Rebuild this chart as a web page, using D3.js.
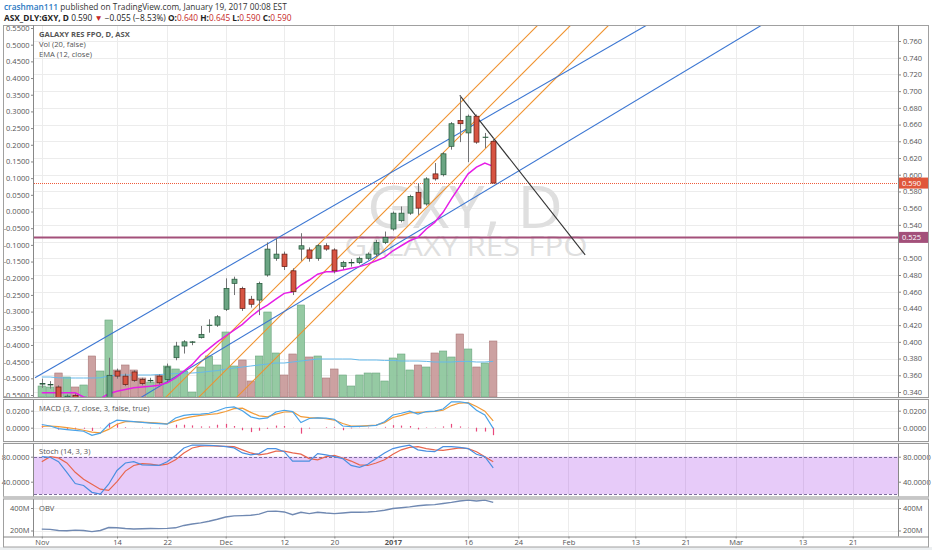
<!DOCTYPE html>
<html><head><meta charset="utf-8">
<script src="https://cdn.jsdelivr.net/npm/d3@7/dist/d3.min.js"></script>
<style>
body{margin:0;background:#fff;}
svg{display:block;font-family:"Open Sans",sans-serif;}
.ax path.domain{display:none;}
.ax line{stroke:#888;}
.ax text{fill:#555;font-size:7.5px;font-family:"Open Sans",sans-serif;}
</style>
</head><body>
<svg id="c" width="932" height="550"></svg>
<script>
// ---------- DATA (bar index 0 = 1 Nov 2016 ... 54 = 19 Jan 2017) ----------
const open  = [0.350,0.349,0.346,0.333,0.336,0.330,0.332,0.322,0.330,0.365,0.359,0.364,0.355,0.354,0.359,0.355,0.381,0.395,0.400,0.405,0.420,0.420,0.439,0.470,0.464,0.451,0.450,0.480,0.500,0.505,0.485,0.511,0.510,0.500,0.515,0.510,0.490,0.495,0.495,0.500,0.505,0.519,0.535,0.545,0.554,0.579,0.565,0.601,0.600,0.634,0.665,0.650,0.670,0.645,0.640];
const high  = [0.356,0.353,0.348,0.337,0.338,0.334,0.333,0.330,0.381,0.368,0.362,0.366,0.357,0.357,0.361,0.374,0.400,0.402,0.401,0.419,0.427,0.432,0.476,0.478,0.466,0.455,0.472,0.519,0.524,0.508,0.488,0.530,0.513,0.517,0.518,0.512,0.497,0.499,0.502,0.507,0.522,0.532,0.556,0.562,0.576,0.590,0.597,0.614,0.627,0.663,0.695,0.672,0.672,0.650,0.645];
const low   = [0.345,0.344,0.330,0.330,0.331,0.326,0.318,0.320,0.325,0.356,0.347,0.352,0.348,0.351,0.349,0.352,0.378,0.386,0.396,0.404,0.411,0.418,0.437,0.456,0.437,0.441,0.432,0.478,0.497,0.486,0.456,0.497,0.496,0.497,0.509,0.482,0.487,0.490,0.493,0.498,0.502,0.517,0.533,0.543,0.552,0.552,0.563,0.593,0.598,0.630,0.639,0.615,0.637,0.632,0.590];
const close = [0.350,0.349,0.333,0.335,0.333,0.332,0.322,0.328,0.360,0.359,0.349,0.354,0.350,0.354,0.351,0.370,0.395,0.400,0.400,0.409,0.420,0.430,0.464,0.475,0.440,0.445,0.470,0.511,0.505,0.490,0.460,0.515,0.500,0.515,0.511,0.485,0.495,0.495,0.500,0.505,0.519,0.525,0.554,0.554,0.574,0.560,0.595,0.595,0.625,0.661,0.661,0.670,0.639,0.645,0.590];
const volume = [5.5,5,12,10,5,6,20.5,13,38.5,13.5,16,13.5,9.5,7.5,11,15.5,14,13,2.5,15,20.5,16,32.5,15.5,18.5,8,20.5,42.5,22,11,21.5,46,20,20.5,9.5,14,11,5.5,11,12,12,8,19.5,21.5,13.5,16,15,22,23,20,31.5,24,15,17,28];
const volMA = [10,10,9.6,9.5,9.5,9.5,9.5,9.6,10.5,11,11,11,11,11,11.2,11.5,11.7,12,12,12.3,12.8,13.2,14,14.5,15,15.5,16,16.5,17,17,17.5,18,18.5,19,19,19,19,19,18.5,18.5,18.5,18.3,18.3,18,18,18,17.8,17.5,17.5,17.5,17.8,17.8,17.5,17.5,17.8];
const ema12 = [0.339,0.339,0.339,0.339,0.339,0.334,0.332,0.332,0.338,0.341,0.343,0.345,0.346,0.347,0.348,0.351,0.357,0.365,0.373,0.384,0.392,0.400,0.407,0.414,0.421,0.430,0.438,0.444,0.451,0.458,0.460,0.468,0.474,0.481,0.484,0.484,0.486,0.488,0.490,0.493,0.497,0.501,0.509,0.515,0.521,0.525,0.535,0.543,0.555,0.571,0.586,0.601,0.609,0.614,0.610];
const macdLine = [0.0038,0.0020,-0.0010,-0.0022,-0.0032,-0.0042,-0.0090,-0.0064,0.0038,0.0088,0.0080,0.0071,0.0062,0.0054,0.0047,0.0042,0.0115,0.0145,0.0157,0.0160,0.0170,0.0200,0.0235,0.0245,0.0200,0.0128,0.0105,0.0115,0.0185,0.0205,0.0190,0.0060,0.0108,0.0115,0.0112,0.0100,0.0020,0.0012,0.0015,0.0020,0.0028,0.0070,0.0150,0.0170,0.0195,0.0160,0.0190,0.0196,0.0220,0.0305,0.0305,0.0290,0.0205,0.0150,-0.0008];
const signalLine = [0.0014,0.0020,0.0012,0.0000,-0.0012,-0.0030,-0.0052,-0.0060,-0.0020,0.0040,0.0072,0.0072,0.0066,0.0060,0.0054,0.0045,0.0080,0.0110,0.0130,0.0145,0.0155,0.0165,0.0190,0.0225,0.0230,0.0180,0.0140,0.0128,0.0160,0.0185,0.0188,0.0130,0.0118,0.0115,0.0105,0.0090,0.0050,0.0020,0.0018,0.0025,0.0030,0.0060,0.0120,0.0145,0.0175,0.0180,0.0185,0.0192,0.0205,0.0260,0.0290,0.0295,0.0250,0.0195,0.0080];
const macdHist = [0.0024,0.0000,-0.0022,-0.0022,-0.0020,-0.0012,-0.0038,-0.0004,0.0058,0.0048,0.0008,-0.0001,-0.0004,-0.0006,-0.0007,-0.0003,0.0035,0.0035,0.0027,0.0015,0.0015,0.0035,0.0045,0.0020,-0.0030,-0.0052,-0.0035,-0.0013,0.0025,0.0020,0.0002,-0.0070,-0.0010,0.0000,0.0007,0.0010,-0.0030,-0.0008,-0.0003,-0.0005,-0.0002,0.0010,0.0030,0.0025,0.0020,-0.0020,0.0005,0.0004,0.0015,0.0045,0.0015,-0.0005,-0.0045,-0.0045,-0.0088];
const stochK = [80,79,72,55,37,34,23,20,36,58,70,72,67,66.5,66,72,82,94,98.7,98.5,98,97.5,96,94,86,83,85,93,93,88,73,73,73,85,83,80,77,66,63,68,77,86,93,96,98.5,91,89,88,96,96,95,93,84,80,62];
const stochD = [72,80,78,70,55,44,36,28,26,40,57,66,69,68,66,68,75,86,94,97,97.5,97,96.5,96,91,86,83,85,89,89,86,84,77,75,80,82,78,73,67,66,70,75,84,91,95,96,93,91,90,92,94,93,88,80,72];
const obv = [212,210,200,198,203,200,190,200,226,224,218,214,216,218,217,219,224,245,258,268,282,300,320,330,332,335,345,370,372,365,340,362,350,362,355,350,356,362,362,364,370,380,395,402,410,420,427,430,440,450,462,470,462,470,450];

// tick labels
const xTickIdx = [0,9,15,22,29,35,42,51,57,63,71,77,83,91,97];
const xTickLbl = ["Nov","14","22","Dec","12","20","2017","16","24","Feb","13","21","Mar","13","21"];
const priceTicks = [0.34,0.36,0.38,0.40,0.42,0.44,0.46,0.48,0.50,0.52,0.54,0.56,0.58,0.60,0.62,0.64,0.66,0.68,0.70,0.72,0.74,0.76];
const leftTicks = [0.55,0.50,0.45,0.40,0.35,0.30,0.25,0.20,0.15,0.10,0.05,0,-0.05,-0.10,-0.15,-0.20,-0.25,-0.30,-0.35,-0.40,-0.45,-0.50,-0.55];
const macdTicks = [0.02, 0];
const stochTicks = [80, 40];
const obvTicks = [400, 200];

// drawings in (bar index, price)
const blueLines   = [[-0.81,0.357,110,0.996],[8,0.3103,110,0.9223]];
const orangeLines = [[10,0.2004,80,0.9008],[10,0.2459,80,0.9463],[10,0.2853,80,0.9857]];
const blackLine   = [50,0.695,65,0.504];
const hLevel = 0.525;
const lastPrice = 0.590;

// header texts
const author = "crashman111";
const published = " published on TradingView.com, January 19, 2017 00:08 EST";
const symbol = "ASX_DLY:GXY, D";
const change = " \u22120.055 (\u22128.53%)";
const ohlc = [["O:","0.640"],["H:","0.645"],["L:","0.590"],["C:","0.590"]];

// ---------- LAYOUT ----------
const svg = d3.select('#c');
const L = 34, R = 898;
const P = {main:[25,397], macd:[400,441], stoch:[443,496.5], obv:[498.5,536.5]};
const x  = d3.scaleLinear().domain([-0.93, 102.42]).range([L, R]);
const yP = d3.scaleLinear().domain([0.76,0.34]).range([41,392]);
const yL = d3.scaleLinear().domain([0.55,-0.55]).range([28,395]);
const yV = d3.scaleLinear().domain([0,100]).range([397,197]);
const yM = d3.scaleLinear().domain([0.02,0]).range([410.7,427.7]);
const yS = d3.scaleLinear().domain([80,40]).range([456.7,481.7]);
const yO = d3.scaleLinear().domain([400,200]).range([508,530.5]);
const idx = d3.range(open.length);
const defs = svg.append('defs');
function clip(id, x0, y0, x1, y1){
  defs.append('clipPath').attr('id',id).append('rect').attr('x',x0).attr('y',y0).attr('width',x1-x0).attr('height',y1-y0);
  return 'url(#'+id+')';
}
svg.append('rect').attr('x',0).attr('y',0).attr('width',932).attr('height',550).attr('fill','#fff');
svg.append('rect').attr('x',0).attr('y',547).attr('width',932).attr('height',3).attr('fill','#eceff1');

// grids
const grid = svg.append('g');
Object.values(P).forEach(([t,b])=>{
  grid.selectAll(null).data(xTickIdx).join('line')
    .attr('x1',d=>Math.round(x(d))+0.5).attr('x2',d=>Math.round(x(d))+0.5)
    .attr('y1',t).attr('y2',b).attr('stroke','#ececec');
});
grid.selectAll(null).data(priceTicks).join('line')
  .attr('x1',L).attr('x2',R).attr('y1',d=>Math.round(yP(d))+0.5).attr('y2',d=>Math.round(yP(d))+0.5).attr('stroke','#ececec');
[[macdTicks,yM],[obvTicks,yO]].forEach(([tk,s])=>{
  grid.selectAll(null).data(tk).join('line')
   .attr('x1',L).attr('x2',R).attr('y1',d=>Math.round(s(d))+0.5).attr('y2',d=>Math.round(s(d))+0.5).attr('stroke','#ececec');
});

// ---------- MAIN PANEL ----------
const gm = svg.append('g').attr('clip-path', clip('cm', L, P.main[0], R, P.main[1]));
// watermark
gm.append('text').attr('x',465).attr('y',228).attr('text-anchor','middle').attr('font-size',58)
  .attr('textLength',196).attr('lengthAdjust','spacingAndGlyphs').attr('fill','#dfdfdf').text('GXY, D');
gm.append('text').attr('x',466).attr('y',256).attr('text-anchor','middle').attr('font-size',27)
  .attr('textLength',243).attr('lengthAdjust','spacingAndGlyphs').attr('fill','#dfdfdf').text('GALAXY RES FPO');

const isUp = i => close[i] >= open[i];
// volume
gm.selectAll('.vol').data(idx).join('rect')
  .attr('x', i=>x(i)-3.7).attr('width',7.4)
  .attr('y', i=>yV(volume[i])).attr('height', i=>yV(0)-yV(volume[i]))
  .attr('fill', i=>isUp(i)?'#8fc79e':'#c99c9c')
  .attr('stroke', i=>isUp(i)?'#6aa37d':'#a97676').attr('stroke-width',0.6).attr('fill-opacity',0.95);
const line = (xs, ys) => d3.line().x(xs).y(ys);
gm.append('path').datum(idx).attr('fill','none').attr('stroke','#66b9ea').attr('stroke-width',1)
  .attr('d', line(i=>x(i), i=>yV(volMA[i])));

// horizontal level & price line
gm.append('line').attr('x1',L).attr('x2',R).attr('y1',yP(hLevel)).attr('y2',yP(hLevel))
  .attr('stroke','#a3507a').attr('stroke-width',2);
gm.append('line').attr('x1',L).attr('x2',R).attr('y1',Math.round(yP(lastPrice))+0.5).attr('y2',Math.round(yP(lastPrice))+0.5)
  .attr('stroke','#ef5b3a').attr('stroke-width',1).attr('stroke-dasharray','1,1');

// trend lines
const seg = (g, d, col) => g.append('line').attr('x1',x(d[0])).attr('y1',yP(d[1])).attr('x2',x(d[2])).attr('y2',yP(d[3]))
  .attr('stroke',col).attr('stroke-width',1.1);
orangeLines.forEach(d=>seg(gm,d,'#f0922e'));
blueLines.forEach(d=>seg(gm,d,'#3b76d2'));
seg(gm, blackLine, '#333');

// EMA
gm.append('path').datum(idx).attr('fill','none').attr('stroke','#e61ee6').attr('stroke-width',1.5)
  .attr('d', line(i=>x(i), i=>yP(ema12[i])));

// candles
gm.selectAll('.wick').data(idx).join('line')
  .attr('x1',i=>Math.round(x(i))+0.5).attr('x2',i=>Math.round(x(i))+0.5)
  .attr('y1',i=>yP(high[i])).attr('y2',i=>yP(low[i])).attr('stroke','#737375');
gm.selectAll('.body').data(idx).join('rect')
  .attr('x',i=>Math.round(x(i))-2).attr('width',5)
  .attr('y',i=>yP(Math.max(open[i],close[i])))
  .attr('height',i=>Math.max(0.5, Math.abs(yP(open[i])-yP(close[i]))))
  .attr('fill',i=>isUp(i)?'#6ba583':'#d75442')
  .attr('stroke',i=>isUp(i)?'#225437':'#5b1a13').attr('stroke-width',0.7);

// legends main
const leg = svg.append('g').attr('fill','#555').attr('font-size',7.6);
leg.append('text').attr('x',39).attr('y',37).attr('font-weight',700).text('GALAXY RES FPO, D, ASX');
leg.append('text').attr('x',39).attr('y',47).text('Vol (20, false)');
leg.append('text').attr('x',39).attr('y',57).text('EMA (12, close)');

// ---------- MACD ----------
const gM = svg.append('g').attr('clip-path', clip('cM', L, P.macd[0], R, P.macd[1]));
gM.selectAll('line').data(idx).join('line')
  .attr('x1',i=>Math.round(x(i))+0.5).attr('x2',i=>Math.round(x(i))+0.5)
  .attr('y1',yM(0)).attr('y2',i=>yM(macdHist[i])).attr('stroke','#e8497c').attr('stroke-width',1.2);
gM.append('path').datum(idx).attr('fill','none').attr('stroke','#f29b38').attr('stroke-width',1.2)
  .attr('d', line(i=>x(i), i=>yM(signalLine[i])));
gM.append('path').datum(idx).attr('fill','none').attr('stroke','#4aa3e8').attr('stroke-width',1.2)
  .attr('d', line(i=>x(i), i=>yM(macdLine[i])));
leg.append('text').attr('x',39).attr('y',411).text('MACD (3, 7, close, 3, false, true)');

// ---------- STOCH ----------
const gS = svg.append('g').attr('clip-path', clip('cS', L, P.stoch[0], R, P.stoch[1]));
gS.append('rect').attr('x',L).attr('width',R-L).attr('y',yS(80)).attr('height',yS(20)-yS(80))
  .attr('fill','rgb(156,39,230)').attr('fill-opacity',0.24);
[80,20].forEach(v=>gS.append('line').attr('x1',L).attr('x2',R).attr('y1',Math.round(yS(v))+0.5).attr('y2',Math.round(yS(v))+0.5)
  .attr('stroke','#7c6c9c').attr('stroke-dasharray','3,2'));
gS.append('path').datum(idx).attr('fill','none').attr('stroke','#e8664e').attr('stroke-width',1.2)
  .attr('d', line(i=>x(i), i=>yS(stochD[i])));
gS.append('path').datum(idx).attr('fill','none').attr('stroke','#4a8fe0').attr('stroke-width',1.2)
  .attr('d', line(i=>x(i), i=>yS(stochK[i])));
leg.append('text').attr('x',39).attr('y',454).text('Stoch (14, 3, 3)');

// ---------- OBV ----------
const gO = svg.append('g').attr('clip-path', clip('cO', L, P.obv[0], R, P.obv[1]));
gO.append('path').datum(idx).attr('fill','none').attr('stroke','#7089b2').attr('stroke-width',1.4)
  .attr('d', line(i=>x(i), i=>yO(obv[i])));
leg.append('text').attr('x',39).attr('y',510.5).text('OBV');

// ---------- AXES ----------
function axisR(scale, ticks, fmt){ return d3.axisRight(scale).tickValues(ticks).tickFormat(fmt).tickSize(3).tickPadding(2); }
function axisL(scale, ticks, fmt){ return d3.axisLeft(scale).tickValues(ticks).tickFormat(fmt).tickSize(3).tickPadding(1.5); }
const f3 = d3.format('.3f');
const f4 = v => Math.abs(v)<1e-9 ? '0.0000' : v.toFixed(4);
const fM = v => v + 'M';
const tagged = [lastPrice, hLevel];
const visPriceTicks = priceTicks.filter(v => tagged.every(t => Math.abs(yP(v)-yP(t)) > 7));
svg.append('g').attr('clip-path',clip('car',R,P.main[0],932,P.main[1]))
  .append('g').attr('class','ax').attr('transform','translate('+R+',0)').call(axisR(yP, visPriceTicks, f3));
svg.append('g').attr('clip-path',clip('cal',0,P.main[0],L+1,P.main[1]))
  .append('g').attr('class','ax').attr('transform','translate('+L+',0)').call(axisL(yL, leftTicks, f4));
[[yM,macdTicks,f4],[yS,stochTicks,f4],[yO,obvTicks,fM]].forEach(([s,t,f])=>{
  svg.append('g').attr('class','ax').attr('transform','translate('+R+',0)').call(axisR(s,t,f));
  svg.append('g').attr('class','ax').attr('transform','translate('+L+',0)').call(axisL(s,t,f));
});
const xa = svg.append('g').attr('class','ax').attr('transform','translate(0,'+P.obv[1]+')')
  .call(d3.axisBottom(x).tickValues(xTickIdx).tickFormat((d,k)=>xTickLbl[k]).tickSize(2).tickPadding(1));
xa.selectAll('text').attr('font-weight',(d,k)=>xTickLbl[k]==='2017'?700:400).attr('fill',(d,k)=>xTickLbl[k]==='2017'?'#333':'#555');

// price labels on right axis
function tag(v, col){
  const y = yP(v);
  svg.append('rect').attr('x',R+1).attr('y',y-5.5).attr('width',29).attr('height',11).attr('fill',col);
  svg.append('text').attr('x',R+4).attr('y',y+2.7).attr('fill','#fff').attr('font-size',7.5).text(f3(v));
}
tag(lastPrice,'#e0573b');
tag(hLevel,'#a3507a');

// ---------- FRAME ----------
const fr = svg.append('g').attr('fill','none');
fr.append('rect').attr('x',3.5).attr('y',P.main[0]+0.5).attr('width',925).attr('height',546.5-P.main[0]).attr('stroke','#a0a0a0');
fr.append('line').attr('x1',L-0.5).attr('x2',L-0.5).attr('y1',P.main[0]).attr('y2',P.obv[1]).attr('stroke','#888');
fr.append('line').attr('x1',R+0.5).attr('x2',R+0.5).attr('y1',P.main[0]).attr('y2',P.obv[1]).attr('stroke','#888');
fr.append('line').attr('x1',3).attr('x2',929).attr('y1',P.obv[1]+0.5).attr('y2',P.obv[1]+0.5).attr('stroke','#888');
[P.main[1], P.macd[1], P.stoch[1]].forEach(s=>{
  fr.append('rect').attr('x',3).attr('y',s).attr('width',926).attr('height',2.5).attr('fill','#f4f4f4').attr('stroke','none');
  fr.append('line').attr('x1',3).attr('x2',929).attr('y1',s+0.5).attr('y2',s+0.5).attr('stroke','#999');
  fr.append('line').attr('x1',3).attr('x2',929).attr('y1',s+2.5).attr('y2',s+2.5).attr('stroke','#999');
});

// ---------- HEADER ----------
const h1 = svg.append('text').attr('x',4).attr('y',10).attr('font-size',8.3);
h1.append('tspan').attr('fill','#2a78c2').attr('font-weight',600).text(author);
h1.append('tspan').attr('fill','#333').text(published);
const h2 = svg.append('text').attr('x',4).attr('y',21).attr('font-size',8.3).attr('fill','#222');
h2.append('tspan').attr('font-weight',700).text(symbol);
h2.append('tspan').text(' ' + f3(lastPrice) + ' ');
h2.append('tspan').attr('fill','#c62828').text('\u25BC');
h2.append('tspan').text(change + ' ');
ohlc.forEach(([k,v])=>{
  h2.append('tspan').attr('font-weight',700).text(' '+k);
  h2.append('tspan').attr('fill','#c62828').text(v);
});
</script>
</body></html>
